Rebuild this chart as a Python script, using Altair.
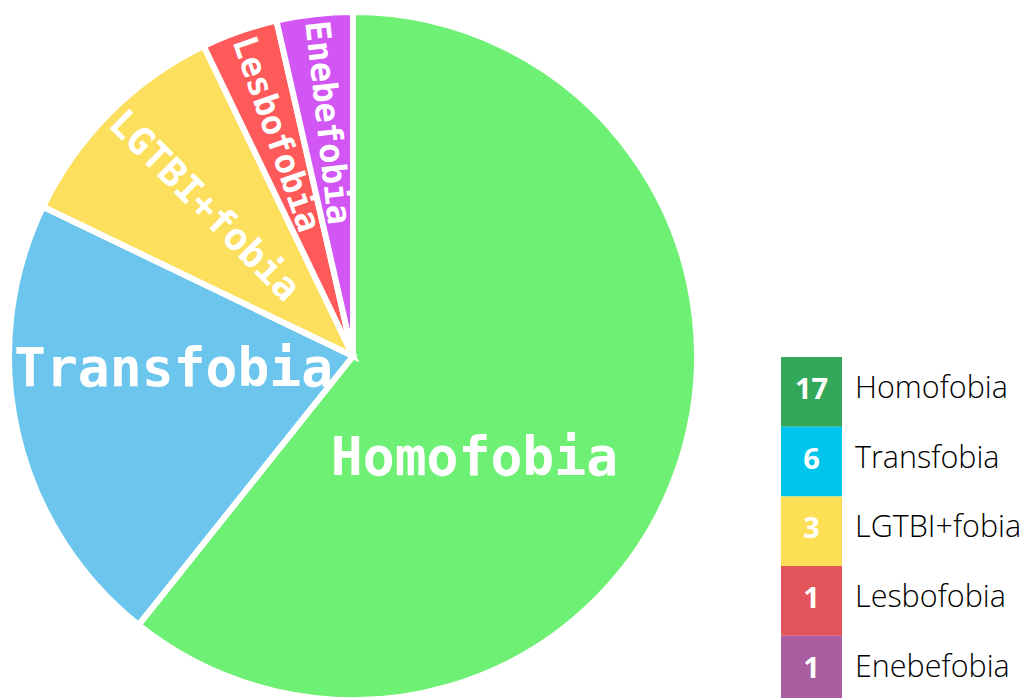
import altair as alt
import pandas as pd

categories = ["Homofobia", "Transfobia", "LGTBI+fobia", "Lesbofobia", "Enebefobia"]
values = [17, 6, 3, 1, 1]
pie_colors = ["#6df073", "#6cc5ec", "#fddf5e", "#fe5a5a", "#d256f4"]
legend_colors = ["#33a85b", "#00c5ec", "#fddf55", "#e4545b", "#aa5ea2"]

df = pd.DataFrame({"cat": categories, "value": values, "idx": list(range(len(categories)))})

CX, CY = 345, 348
LABEL_FONT = "DejaVu Sans Mono"
LEG_FONT = "Open Sans"

base = alt.Chart(df).transform_window(
    cum="sum(value)", sort=[alt.SortField("idx")], frame=[None, 0]
).transform_joinaggregate(total="sum(value)").transform_calculate(
    mid="(datum.cum - datum.value/2) / datum.total * 360"
)

arcs = base.mark_arc(outerRadius=344, stroke="white", strokeWidth=6).encode(
    theta=alt.Theta("value:Q", stack=True),
    order=alt.Order("idx:Q"),
    color=alt.Color("cat:N", scale=alt.Scale(domain=categories, range=pie_colors), legend=None),
    x=alt.value(CX),
    y=alt.value(CY),
)


def pie_label(name_expr, radius, size, align, baseline, angle_expr, dx=0, dy=0):
    return base.transform_calculate(
        lab=name_expr, ang=angle_expr
    ).mark_text(
        radius=radius, font=LABEL_FONT, fontWeight="bold", fontSize=size,
        align=align, baseline=baseline, color="white", dx=dx, dy=dy,
    ).encode(
        theta=alt.Theta("value:Q", stack=True),
        order=alt.Order("idx:Q"),
        text="lab:N",
        angle=alt.Angle("ang:Q", scale=None),
        x=alt.value(CX),
        y=alt.value(CY),
    )


homo = pie_label("datum.idx == 0 ? datum.cat : ''", 170, 53, "center", "alphabetic", "0", dx=-39, dy=63)
trans = pie_label("datum.idx == 1 ? datum.cat : ''", 182, 53, "center", "alphabetic", "0", dx=-2, dy=-10)
big_small = pie_label("datum.idx == 2 ? datum.cat : ''", 337, 38, "left", "middle", "datum.mid - 270")
small = pie_label("datum.idx >= 3 ? datum.cat : ''", 337, 34, "left", "middle", "datum.mid - 270")

ys = alt.Y("cat:N", sort=categories, axis=None,
           scale=alt.Scale(range=[349, 697.5], paddingInner=0, paddingOuter=0))

leg_rect = alt.Chart(df).mark_rect().encode(
    y=ys,
    x=alt.value(773),
    x2=alt.value(834),
    fill=alt.Fill("cat:N", scale=alt.Scale(domain=categories, range=legend_colors), legend=None),
)
leg_num = alt.Chart(df).mark_text(
    font=LEG_FONT, fontWeight="bold", fontSize=29, color="white", align="center",
    baseline="middle", dy=-2
).encode(y=ys, x=alt.value(803.5), text="value:Q")
leg_name = alt.Chart(df).mark_text(
    font=LEG_FONT, fontWeight=300, fontSize=30.5, color="#000000", align="left",
    baseline="middle", dy=-3
).encode(y=ys, x=alt.value(847), text="cat:N")

chart = alt.layer(arcs, homo, trans, big_small, small, leg_rect, leg_num, leg_name).properties(
    width=1017, height=690, padding=0, autosize=alt.AutoSizeParams(type="none")
).configure_view(stroke=None)

chart.save("out.html", embed_options={"renderer": "svg", "actions": False})
